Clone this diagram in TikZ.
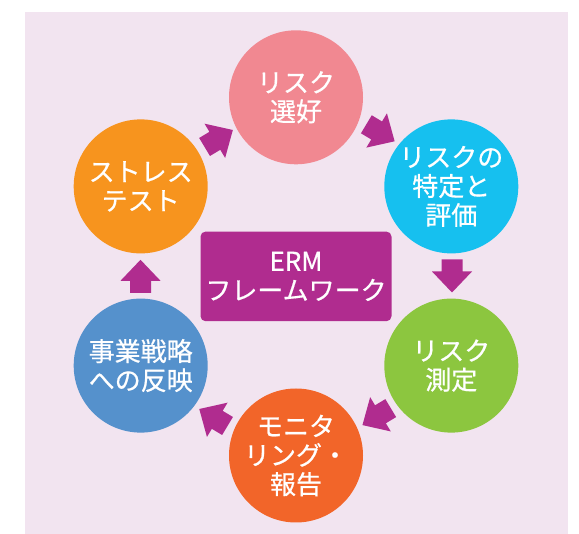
\documentclass[tikz,border=0pt]{standalone}
\usepackage{fontspec}
\setmainfont{Noto Sans CJK JP}[FakeBold=0.6]
\definecolor{bgcol}{HTML}{F2E4F0}
\definecolor{arrcol}{HTML}{B02C8F}
\definecolor{cpink}{HTML}{F18891}
\definecolor{ccyan}{HTML}{16C0EF}
\definecolor{cgreen}{HTML}{8CC63F}
\definecolor{cred}{HTML}{F26529}
\definecolor{cblue}{HTML}{5591CC}
\definecolor{corange}{HTML}{F7941E}
\tikzset{
  circnode/.style={circle, minimum size=134pt, inner sep=0pt, draw=none, text=white, align=center,
    font=\fontsize{26}{29}\selectfont},
  framebox/.style={rectangle, rounded corners=5pt, fill=arrcol, minimum width=191pt, minimum height=89.6pt,
    text=white, align=center, font=\fontsize{26}{29}\selectfont},
  blockarrow/.pic={\fill[arrcol] (-16.5,-10.5) -- (-4.5,-10.5) -- (-4.5,-20) -- (16.5,0) -- (-4.5,20) -- (-4.5,10.5) -- (-16.5,10.5) -- cycle;}
}
\begin{document}
\begin{tikzpicture}[x=1pt,y=-1pt]
\useasboundingbox (0,0) rectangle (579,534);
\fill[bgcol] (25,12) rectangle (567.7,534);
\node[circnode, fill=cpink] (c1) at (296,97.3) {リスク\\選好};
\node[circnode, fill=ccyan] (c2) at (451.3,186.4) {リスクの\\特定と\\評価};
\node[circnode, fill=cgreen] (c3) at (451.3,365.6) {リスク\\測定};
\node[circnode, fill=cred] (c4) at (296,455.5) {モニタ\\リング・\\報告};
\node[circnode, fill=cblue] (c5) at (140.7,365.6) {事業戦略\\への反映};
\node[circnode, fill=corange] (c6) at (140.7,186.4) {ストレス\\テスト};
\node[framebox] (erm) at (296,276.4) {ERM\\フレームワーク};
\pic[rotate=-31] (a1) at (380.5,132.8) {blockarrow};
\pic[rotate=-90] (a2) at (452,276) {blockarrow};
\pic[rotate=-149] (a3) at (376.6,416.6) {blockarrow};
\pic[rotate=149] (a4) at (213.4,417.5) {blockarrow};
\pic[rotate=90] (a5) at (140.5,276.3) {blockarrow};
\pic[rotate=31] (a6) at (218.7,138.5) {blockarrow};
\end{tikzpicture}
\end{document}
